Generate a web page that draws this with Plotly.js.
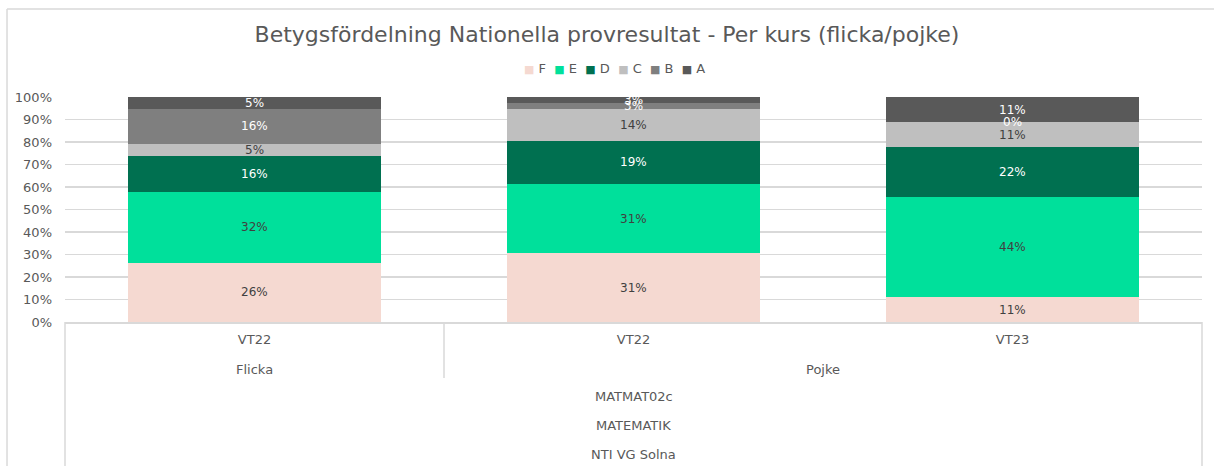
<!DOCTYPE html>
<html><head><meta charset="utf-8">
<script src="https://cdn.plot.ly/plotly-3.0.1.min.js"></script>
<style>html,body{margin:0;padding:0;background:#fff}#c{width:1214px;height:466px}</style>
</head><body><div id="c"></div>
<script>
const categories = ["Flicka VT22", "Pojke VT22", "Pojke VT23"];
const tickLabels = ["VT22", "VT22", "VT23"];
const groupLabels = ["Flicka", "Pojke"];
const groupSpans = [[0, 0], [1, 2]];
const levelLabels = ["MATMAT02c", "MATEMATIK", "NTI VG Solna"];
const grades = ["F", "E", "D", "C", "B", "A"];
const F = [26.3, 30.6, 11.1];
const E = [31.6, 30.6, 44.4];
const D = [15.8, 19.4, 22.2];
const C = [5.3, 13.9, 11.1];
const B = [15.8, 2.8, 0];
const A = [5.3, 2.8, 11.1];
const values = [F, E, D, C, B, A];
const colors = ["#F5D9D1", "#00E09B", "#007050", "#BFBFBF", "#7F7F7F", "#595959"];
const labelColors = ["#404040", "#404040", "#FFFFFF", "#404040", "#FFFFFF", "#FFFFFF"];
const titleText = "Betygsfördelning Nationella provresultat - Per kurs (flicka/pojke)";

const FONT = "DejaVu Sans, sans-serif";
const TXT = "#595959";
const traces = grades.map((g, i) => ({
  type: "bar", name: g, x: categories, y: values[i],
  marker: {color: colors[i], line: {width: 0}},
  hoverinfo: "skip"
}));

const annotations = [];
// segment labels, placed at the middle of each stacked segment on the data scales
categories.forEach((cat, j) => {
  let base = 0;
  values.forEach((arr, i) => {
    const v = arr[j];
    annotations.push({xref: "x", yref: "y", x: cat, y: base + v / 2, text: Math.round(v) + "%",
      showarrow: false, xanchor: "center", yanchor: "middle",
      font: {family: FONT, size: 12, color: labelColors[i]}});
    base += v;
  });
});
groupLabels.forEach((g, i) => {
  annotations.push({xref: "x", yref: "paper", x: (groupSpans[i][0] + groupSpans[i][1]) / 2, y: -0.213,
    text: g, showarrow: false, yanchor: "middle", font: {family: FONT, size: 13, color: TXT}});
});
const levelY = [-0.333, -0.462, -0.591];
levelLabels.forEach((t, i) => {
  annotations.push({xref: "paper", yref: "paper", x: 0.5, y: levelY[i], text: t, showarrow: false,
    yanchor: "middle", font: {family: FONT, size: 13, color: TXT}});
});
// legend
const legendText = grades.map((g, i) => `<span style="color:${colors[i]};font-size:11px">■</span> ${g}`).join("&nbsp;&nbsp;");
annotations.push({xref: "paper", yref: "paper", x: (614 - 65) / 1137, y: (322 - 68) / 225, text: legendText,
  showarrow: false, xanchor: "center", yanchor: "middle", font: {family: FONT, size: 13, color: TXT}});

const lc = "#D9D9D9";
const shapes = [
  {type: "line", xref: "x", yref: "paper", x0: 0.5, x1: 0.5, y0: 0, y1: -0.249, line: {color: lc, width: 1.5}},
  {type: "line", xref: "paper", yref: "paper", x0: 0, x1: 0, y0: 0, y1: -0.7, line: {color: lc, width: 1.5}},
  {type: "line", xref: "paper", yref: "paper", x0: 1, x1: 1, y0: 0, y1: -0.7, line: {color: lc, width: 1.5}},
  {type: "line", xref: "paper", yref: "paper", x0: -0.051, x1: -0.051, y0: 1.391, y1: -0.7, line: {color: lc, width: 1.5}},
  {type: "line", xref: "paper", yref: "paper", x0: -0.051, x1: 1.05, y0: 1.391, y1: 1.391, line: {color: lc, width: 1.5}}
];

const layout = {
  width: 1214, height: 466,
  margin: {l: 65, r: 12, t: 97, b: 144},
  paper_bgcolor: "#fff", plot_bgcolor: "#fff",
  barmode: "stack", bargap: 0.333,
  showlegend: false,
  title: {text: titleText, x: 0.5, xref: "container", y: 1 - 34 / 466, yref: "container", yanchor: "middle",
    font: {family: FONT, size: 22, color: TXT}},
  xaxis: {type: "category", tickvals: categories, ticktext: tickLabels, showline: true, linecolor: lc, linewidth: 1.5,
    ticks: "", showgrid: false, tickfont: {family: FONT, size: 13, color: TXT}, ticklabelstandoff: 5, fixedrange: true},
  yaxis: {range: [0, 100], dtick: 10, ticksuffix: "%", showgrid: true, gridcolor: lc, gridwidth: 1.5, zeroline: false,
    showline: false, ticks: "", tickfont: {family: FONT, size: 13, color: TXT}, ticklabelstandoff: 12, fixedrange: true},
  annotations: annotations, shapes: shapes
};
Plotly.newPlot("c", traces, layout, {displayModeBar: false, staticPlot: true});
</script></body></html>
